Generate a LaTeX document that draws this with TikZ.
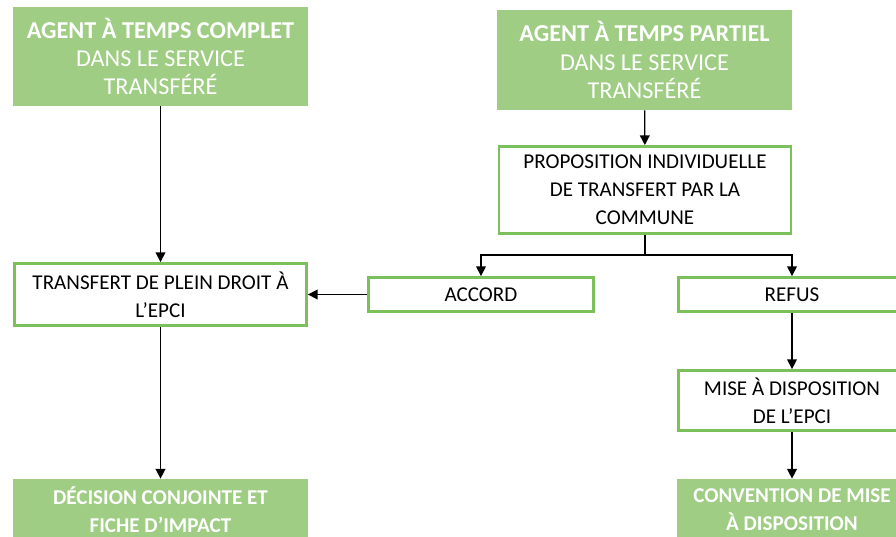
\documentclass[tikz,border=0pt]{standalone}
\usepackage{fontspec}
\setmainfont{Carlito}
\usetikzlibrary{arrows.meta}
\definecolor{fillgreen}{RGB}{158,205,131}
\definecolor{edgegreen}{RGB}{124,192,92}
\begin{document}
\begin{tikzpicture}[
	every node/.style={font=\fontsize{12}{15.9}\selectfont, align=center, inner sep=2pt},
	greenbox/.style={fill=fillgreen, text=white},
	headbox/.style={greenbox, font=\fontsize{13.8}{16}\selectfont},
	whitebox/.style={draw=edgegreen, line width=1.6pt, fill=white, text=black},
	flow/.style={-{Triangle[length=5.5pt,width=5.5pt]}, line width=0.8pt}]
	\useasboundingbox (0,0) rectangle (17.92,-10.74);
	\clip (0,0) rectangle (17.92,-10.74);
	% left column
	\node[headbox, minimum width=5.9cm, minimum height=1.98cm] (complet) at (3.21,-1.13) {\textbf{AGENT À TEMPS COMPLET}\\DANS LE SERVICE\\TRANSFÉRÉ};
	\node[whitebox, minimum width=5.84cm, minimum height=1.24cm] (droit) at (3.21,-5.89) {TRANSFERT DE PLEIN DROIT À\\L’EPCI};
	\node[greenbox, minimum width=5.9cm, minimum height=1.24cm] (decision) at (3.21,-10.2) {\textbf{DÉCISION CONJOINTE ET}\\\textbf{FICHE D’IMPACT}};
	% right column
	\node[headbox, minimum width=5.9cm, minimum height=2.0cm] (partiel) at (12.89,-1.2) {\textbf{AGENT À TEMPS PARTIEL}\\DANS LE SERVICE\\TRANSFÉRÉ};
	\node[whitebox, minimum width=5.84cm, minimum height=1.74cm] (proposition) at (12.9,-3.8) {PROPOSITION INDIVIDUELLE\\DE TRANSFERT PAR LA\\COMMUNE};
	\node[whitebox, minimum width=4.5cm, minimum height=0.68cm] (accord) at (9.62,-5.89) {ACCORD};
	\node[whitebox, minimum width=4.54cm, minimum height=0.68cm] (refus) at (15.84,-5.89) {REFUS};
	\node[whitebox, minimum width=4.54cm, minimum height=1.2cm] (mise) at (15.84,-8.01) {MISE À DISPOSITION\\DE L’EPCI};
	\node[greenbox, minimum width=4.6cm, minimum height=1.24cm] (convention) at (15.84,-10.2) {\textbf{CONVENTION DE MISE}\\\textbf{À DISPOSITION}};
	% connectors
	\draw[flow] (complet) -- (droit);
	\draw[flow] (droit) -- (decision);
	\draw[flow] (partiel) -- (proposition);
	\draw[line width=0.8pt] (proposition.south) -- ++(0,-0.4) coordinate (fork);
	\draw[flow] (fork) -| (accord.north);
	\draw[flow] (fork) -| (refus.north);
	\draw[flow] (accord) -- (droit);
	\draw[flow] (refus) -- (mise);
	\draw[flow] (mise) -- (convention);
\end{tikzpicture}
\end{document}
